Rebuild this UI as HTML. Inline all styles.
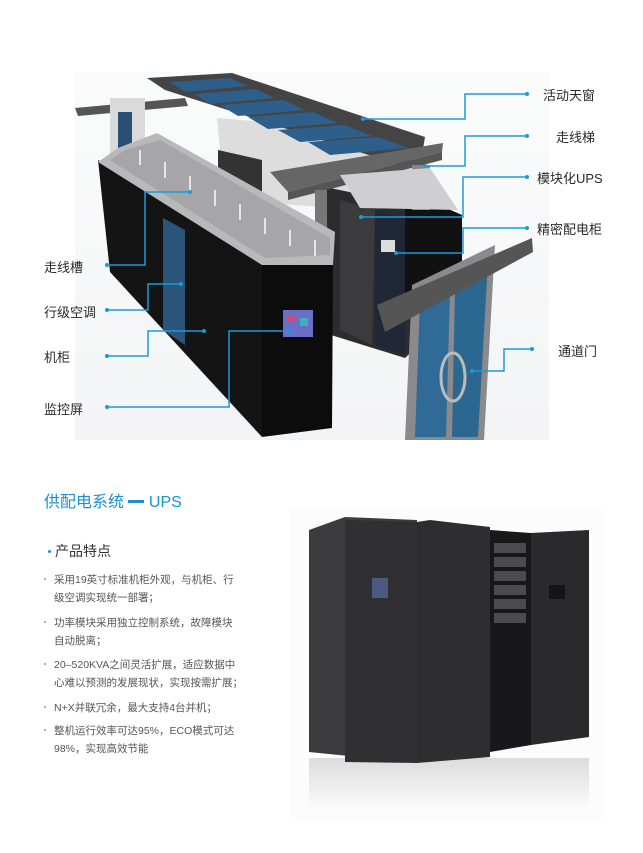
<!DOCTYPE html>
<html><head><meta charset="utf-8"><style>
html,body{margin:0;padding:0;background:#fff;}
body{width:643px;height:853px;position:relative;overflow:hidden;font-family:"Liberation Sans","Noto Sans CJK SC",sans-serif;}
.t{position:absolute;white-space:nowrap;color:#333;}
.lab{font-size:13px;color:#2a2a2a;}
.li{font-size:10.5px;color:#555;left:54px;}
.dot{position:absolute;left:44px;width:2px;height:2px;background:#999;border-radius:1px;}
</style></head><body>
<svg width="643" height="853" style="position:absolute;left:0;top:0">
<defs>
<linearGradient id="bg" x1="0" y1="0" x2="0" y2="1"><stop offset="0" stop-color="#fafbfb"/><stop offset="1" stop-color="#f3f4f5"/></linearGradient>
<linearGradient id="refl" x1="0" y1="0" x2="0" y2="1"><stop offset="0" stop-color="#b5b5b7"/><stop offset="1" stop-color="#fff"/></linearGradient>
</defs>
<rect x="75" y="72" width="474" height="368" fill="url(#bg)"/>
<polygon points="217,118 420,135 430,215 225,200" fill="#ddd"/>
<polygon points="218,150 262,160 262,205 218,200" fill="#333"/>
<polygon points="315,185 462,215 462,305 405,358 315,330" fill="#2c2c2e"/>
<polygon points="340,200 375,210 372,345 340,330" fill="#3b3b3d"/>
<polygon points="375,210 405,218 405,355 375,345" fill="#202838"/>
<rect x="381" y="240" width="14" height="12" fill="#ddd"/>
<polygon points="405,190 462,215 462,300 405,300" fill="#111"/>
<polygon points="147,78 232,73 425,137 422,155 400,165 165,90" fill="#444"/>
<g fill="#2d5f8a">
<polygon points="170,82 230,78 248,86 185,92"/>
<polygon points="195,94 255,89 275,98 210,104"/>
<polygon points="220,105 283,100 305,110 238,116"/>
<polygon points="248,117 313,112 338,123 268,129"/>
<polygon points="278,130 345,125 372,136 300,142"/>
<polygon points="308,142 378,137 408,148 330,155"/>
</g>
<polygon points="270,172 443,143 442,152 288,192" fill="#666"/>
<polygon points="288,192 442,152 442,160 288,200" fill="#555"/>
<rect x="315" y="190" width="12" height="60" fill="#777"/>
<rect x="412" y="165" width="18" height="45" fill="#888"/>
<polygon points="340,175 430,168 458,210 360,208" fill="#cfcfd1"/>
<polygon points="75,108 185,98 188,106 78,116" fill="#555"/>
<rect x="110" y="98" width="35" height="60" fill="#dadada"/>
<rect x="118" y="112" width="14" height="40" fill="#2a4f75"/>
<polygon points="98,160 262,262 262,437 110,272" fill="#141414"/>
<polygon points="262,265 333,265 332,428 262,437" fill="#0c0c0c"/>
<polygon points="163,218 185,230 185,345 163,330" fill="#2b5578"/>
<polygon points="118,148 157,133 335,232 333,265 262,265 98,162" fill="#b9b9bb"/>
<polygon points="125,150 160,140 330,238 330,255 265,258 110,160" fill="#a6a6a8"/>
<g stroke="#e6e6e6" stroke-width="2">
<line x1="140" y1="150" x2="140" y2="165"/><line x1="165" y1="162" x2="165" y2="178"/><line x1="190" y1="176" x2="190" y2="192"/><line x1="215" y1="190" x2="215" y2="206"/><line x1="240" y1="204" x2="240" y2="220"/><line x1="265" y1="218" x2="265" y2="234"/><line x1="290" y1="230" x2="290" y2="246"/><line x1="315" y1="240" x2="315" y2="256"/>
</g>
<rect x="283" y="310" width="30" height="27" fill="#6a6fc8"/>
<rect x="287" y="315" width="8" height="6" fill="#d04a7a"/><rect x="300" y="318" width="8" height="8" fill="#3fb0c0"/>
<polygon points="405,440 412,285 495,245 484,440" fill="#8a8a8c"/>
<polygon points="415,437 420,300 450,290 446,437" fill="#2f6b96"/>
<polygon points="452,437 455,288 488,262 478,437" fill="#2c6791"/>
<polygon points="377,305 532,238 533,252 385,332" fill="#555"/>
<ellipse cx="453" cy="377" rx="12" ry="24" fill="none" stroke="#bbb" stroke-width="3"/>
<g stroke="#1b9ad8" stroke-width="1.5" fill="none">
<polyline points="527,94 465,94 465,119 363,119"/>
<polyline points="527,136 465,136 465,166 425,166"/>
<polyline points="527,177 463,177 463,217 361,217"/>
<polyline points="527,228 463,228 463,253 396,253"/>
<polyline points="532,349 504,349 504,371 472,371"/>
<polyline points="107,265 145,265 145,192 190,192"/>
<polyline points="107,310 148,310 148,284 181,284"/>
<polyline points="107,356 148,356 148,331 204,331"/>
<polyline points="107,407 229,407 229,331 289,331"/>
</g>
<g fill="#1b9ad8">
<circle cx="527" cy="94" r="2"/><circle cx="363" cy="119" r="2"/>
<circle cx="527" cy="136" r="2"/><circle cx="425" cy="166" r="2"/>
<circle cx="527" cy="177" r="2"/><circle cx="361" cy="217" r="2"/>
<circle cx="527" cy="228" r="2"/><circle cx="396" cy="253" r="2"/>
<circle cx="532" cy="349" r="2"/><circle cx="472" cy="371" r="2"/>
<circle cx="107" cy="265" r="2"/><circle cx="190" cy="192" r="2"/>
<circle cx="107" cy="310" r="2"/><circle cx="181" cy="284" r="2"/>
<circle cx="107" cy="356" r="2"/><circle cx="204" cy="331" r="2"/>
<circle cx="107" cy="407" r="2"/><circle cx="289" cy="331" r="2"/>
</g>
<rect x="290" y="508" width="312" height="314" fill="#fcfcfc"/>
<rect x="309" y="758" width="280" height="55" fill="url(#refl)" opacity="0.45"/>
<polygon points="309,530 345,517 417,520 417,763 309,752" fill="#3c3c3e"/>
<polygon points="345,520 417,522 417,763 345,762" fill="#303032"/>
<rect x="372" y="578" width="16" height="20" fill="#4a5a80"/>
<polygon points="417,522 430,520 490,527 490,757 417,763" fill="#2e2e30"/>
<polygon points="490,530 531,533 531,745 490,752" fill="#18181a"/>
<g fill="#4b4b4d"><rect x="494" y="543" width="32" height="10"/><rect x="494" y="557" width="32" height="10"/><rect x="494" y="571" width="32" height="10"/><rect x="494" y="585" width="32" height="10"/><rect x="494" y="599" width="32" height="10"/><rect x="494" y="613" width="32" height="10"/></g>
<polygon points="531,533 589,530 589,737 531,745" fill="#2a2a2c"/>
<rect x="549" y="585" width="16" height="14" fill="#151515"/>
</svg>
<div class="t lab" style="left:543px;top:85px">活动天窗</div>
<div class="t lab" style="left:556px;top:127px">走线梯</div>
<div class="t lab" style="left:537px;top:168px">模块化UPS</div>
<div class="t lab" style="left:537px;top:219px">精密配电柜</div>
<div class="t lab" style="left:558px;top:341px">通道门</div>
<div class="t lab" style="left:44px;top:257px">走线槽</div>
<div class="t lab" style="left:44px;top:302px">行级空调</div>
<div class="t lab" style="left:44px;top:347px">机柜</div>
<div class="t lab" style="left:44px;top:399px">监控屏</div>

<div class="t" style="left:44px;top:488px;font-size:16px;color:#1a8fd6">供配电系统 <span style="display:inline-block;width:16px;height:3px;background:#1a8fd6;vertical-align:middle;margin-top:-3px"></span> UPS</div>
<div style="position:absolute;left:48px;top:550px;width:3px;height:3px;background:#1a8fd6;border-radius:2px"></div>
<div class="t" style="left:55px;top:541px;font-size:14px;color:#333">产品特点</div>
<div class="dot" style="top:578px"></div><div class="t li" style="top:572px">采用19英寸标准机柜外观，与机柜、行</div>
<div class="t li" style="top:590px">级空调实现统一部署；</div>
<div class="dot" style="top:621px"></div><div class="t li" style="top:615px">功率模块采用独立控制系统，故障模块</div>
<div class="t li" style="top:633px">自动脱离；</div>
<div class="dot" style="top:663px"></div><div class="t li" style="top:657px">20–520KVA之间灵活扩展，适应数据中</div>
<div class="t li" style="top:675px">心难以预测的发展现状，实现按需扩展；</div>
<div class="dot" style="top:706px"></div><div class="t li" style="top:700px">N+X并联冗余，最大支持4台并机；</div>
<div class="dot" style="top:729px"></div><div class="t li" style="top:723px">整机运行效率可达95%，ECO模式可达</div>
<div class="t li" style="top:741px">98%，实现高效节能</div>
</body></html>
